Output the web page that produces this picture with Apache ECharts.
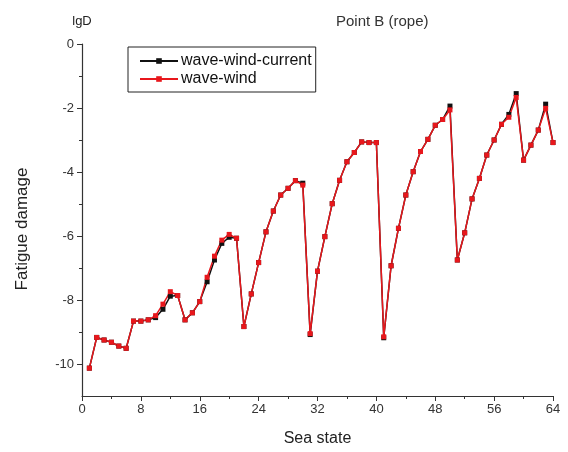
<!DOCTYPE html>
<html><head><meta charset="utf-8">
<script src="https://cdn.jsdelivr.net/npm/echarts@6/dist/echarts.min.js"></script>
<style>html,body{margin:0;padding:0;background:#fff}#c{width:568px;height:452px}</style>
</head><body><div id="c"></div>
<script>
const seaStates = Array.from({length:64},(_,i)=>i+1);
const waveWind = [-10.13,-9.17,-9.25,-9.32,-9.44,-9.51,-8.66,-8.66,-8.62,-8.49,
-8.13,-7.74,-7.86,-8.62,-8.40,-8.05,-7.29,-6.63,-6.13,-5.95,
-6.07,-8.83,-7.81,-6.83,-5.87,-5.22,-4.72,-4.51,-4.27,-4.41,
-9.05,-7.10,-6.02,-4.99,-4.26,-3.68,-3.39,-3.06,-3.08,-3.08,
-9.15,-6.93,-5.76,-4.72,-3.99,-3.36,-2.98,-2.54,-2.36,-2.06,
-6.75,-5.90,-4.84,-4.20,-3.47,-3.00,-2.51,-2.29,-1.67,-3.63,
-3.16,-2.69,-2.01,-3.08];
const waveWindCurrent = [-10.13,-9.17,-9.25,-9.32,-9.44,-9.51,-8.66,-8.66,-8.62,-8.55,
-8.29,-7.88,-7.86,-8.62,-8.40,-8.05,-7.43,-6.75,-6.23,-6.04,
-6.07,-8.83,-7.81,-6.83,-5.87,-5.22,-4.72,-4.51,-4.27,-4.35,
-9.08,-7.10,-6.02,-4.99,-4.26,-3.68,-3.39,-3.06,-3.08,-3.08,
-9.18,-6.93,-5.76,-4.72,-3.99,-3.36,-2.98,-2.54,-2.36,-1.94,
-6.75,-5.90,-4.84,-4.20,-3.47,-3.00,-2.51,-2.20,-1.55,-3.63,
-3.16,-2.69,-1.88,-3.08];
const yMajor = [0,-2,-4,-6,-8,-10];
const yMinor = [-1,-3,-5,-7,-9];
const xTicks = [0,8,16,24,32,40,48,56,64];

const font = '"Liberation Sans", Arial, sans-serif';
const axisCol = '#333';
const chart = echarts.init(document.getElementById('c'), null, {renderer:'canvas'});
chart.setOption({
  animation:false,
  backgroundColor:'#fff',
  title:{text:'Point B (rope)', left:331, top:9,
    textStyle:{fontFamily:font, fontSize:15, fontWeight:'normal', color:'#333'}},
  graphic:[{
    type:'text', x:22, y:229, rotation:Math.PI/2,
    style:{text:'Fatigue damage', font:'17px "Liberation Sans", Arial, sans-serif',
      fill:'#222', align:'center', verticalAlign:'middle'}
  }],
  legend:{
    orient:'vertical', left:128, top:47,
    borderColor:'#222', borderWidth:1, padding:[6,4,5,11], itemGap:2,
    itemWidth:38, itemHeight:7,
    textStyle:{fontFamily:font, fontSize:16, color:'#111', padding:[0,0,0,-2]},
    data:['wave-wind-current','wave-wind']
  },
  grid:{left:82, right:15, top:44, bottom:56, containLabel:false},
  xAxis:{
    type:'value', min:0, max:64, interval:8,
    name:'Sea state', nameLocation:'middle', nameGap:35,
    nameTextStyle:{fontFamily:font, fontSize:16, color:'#222'},
    axisLine:{show:true, onZero:false, lineStyle:{color:axisCol, width:1.2}},
    axisTick:{show:true, inside:false, length:5, lineStyle:{color:axisCol}},
    minorTick:{show:true, splitNumber:2, length:3, lineStyle:{color:axisCol}},
    axisLabel:{fontFamily:font, fontSize:13, color:'#333', margin:7,
      customValues:xTicks},
    splitLine:{show:false}
  },
  yAxis:[{
    type:'value', min:-11, max:0, interval:1,
    name:'lgD', nameLocation:'end', nameGap:16,
    nameTextStyle:{fontFamily:font, fontSize:13, color:'#222'},
    axisLine:{show:true, onZero:false, lineStyle:{color:axisCol, width:1.2}},
    axisTick:{show:true, length:5, customValues:yMajor, lineStyle:{color:axisCol}},
    axisLabel:{fontFamily:font, fontSize:13, color:'#333', margin:8, customValues:yMajor},
    splitLine:{show:false}
  },{
    type:'value', min:-11, max:0, interval:1, position:'left',
    axisLine:{show:false},
    axisTick:{show:true, length:3, customValues:yMinor, lineStyle:{color:axisCol}},
    axisLabel:{show:false},
    splitLine:{show:false}
  }],
  series:[{
    name:'wave-wind-current', type:'line',
    data:seaStates.map((x,i)=>[x,waveWindCurrent[i]]),
    symbol:'rect', symbolSize:5, showSymbol:true,
    lineStyle:{color:'#111', width:1.5}, itemStyle:{color:'#111'}
  },{
    name:'wave-wind', type:'line',
    data:seaStates.map((x,i)=>[x,waveWind[i]]),
    symbol:'rect', symbolSize:5, showSymbol:true,
    lineStyle:{color:'#e8171c', width:1.5}, itemStyle:{color:'#e8171c'}
  }]
});
</script></body></html>
